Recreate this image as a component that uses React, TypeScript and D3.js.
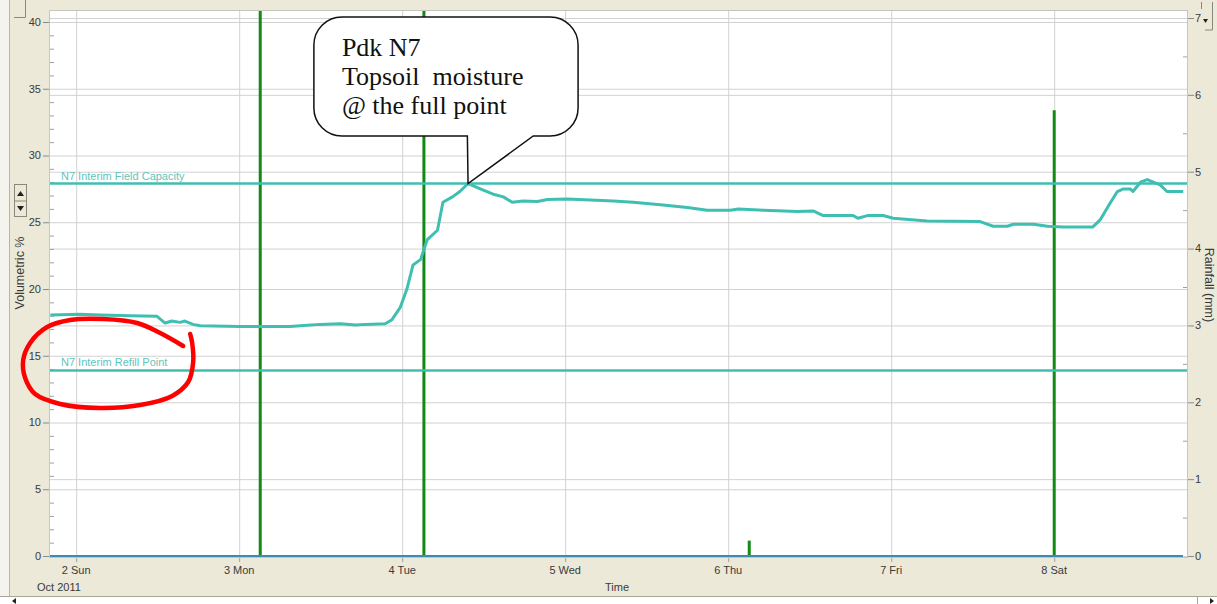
import React from 'react';
import * as d3 from 'd3';

const W = 1217;
const H = 604;

// ---- data ----
const startTime = new Date(2011, 9, 2, 0, 0); // 2 Oct 2011 00:00
const dayLabels = ['2 Sun', '3 Mon', '4 Tue', '5 Wed', '6 Thu', '7 Fri', '8 Sat'];
const monthLabel = 'Oct 2011';
const leftTicks = [0, 5, 10, 15, 20, 25, 30, 35, 40];
const rightTicks = [0, 1, 2, 3, 4, 5, 6, 7];

// soil moisture: hours since 2 Oct 00:00, volumetric %
const moistureHours = [
  -3.8, 0.6, 3.5, 8.0, 11.9, 13.1, 14.1, 15.3, 16.0, 17.2, 18.3, 24.1, 31.5, 33.0, 35.9, 38.9,
  41.1, 42.6, 45.5, 46.5, 47.7, 48.7, 49.6, 50.7, 51.7, 53.2, 54.0, 55.4, 56.5, 57.7, 59.5, 61.4,
  62.9, 64.2, 65.8, 67.9, 69.4, 72.3, 79.1, 82.0, 86.4, 90.0, 92.9, 96.3, 97.5, 101.2, 106.2,
  108.5, 110.0, 114.4, 115.1, 116.5, 118.8, 120.3, 125.3, 133.1, 135.0, 137.1, 138.0, 140.9,
  143.0, 145.3, 149.7, 150.8, 152.2, 153.3, 154.2, 155.2, 155.6, 156.7, 157.7, 158.6, 159.6,
  160.6, 163.0,
];
const moistureValues = [
  18.05, 18.1, 18.05, 18.0, 17.95, 17.45, 17.6, 17.5, 17.6, 17.35, 17.25, 17.2, 17.2, 17.25,
  17.35, 17.4, 17.3, 17.35, 17.4, 17.7, 18.6, 20.0, 21.8, 22.2, 23.7, 24.4, 26.5, 26.9, 27.3,
  27.9, 27.5, 27.1, 26.9, 26.5, 26.6, 26.55, 26.7, 26.75, 26.6, 26.5, 26.3, 26.1, 25.9, 25.9,
  26.0, 25.9, 25.8, 25.85, 25.5, 25.5, 25.3, 25.5, 25.5, 25.3, 25.1, 25.05, 24.7, 24.7, 24.85,
  24.85, 24.7, 24.65, 24.65, 25.2, 26.4, 27.3, 27.5, 27.5, 27.3, 28.0, 28.2, 28.0, 27.8, 27.3,
  27.3,
];

// rainfall: hours since 2 Oct 00:00, mm
const rainHours = [27.1, 51.2, 99.1, 144.0];
const rainValues = [10, 10, 0.2, 5.8];

const fieldCapacity = 27.9;
const refillPoint = 13.9;
const fieldCapacityLabel = 'N7 Interim Field Capacity';
const refillPointLabel = 'N7 Interim Refill Point';

// annotation (data units: hours, volumetric %)
const calloutLines = ['Pdk N7', 'Topsoil  moisture', '@ the full point'];
const calloutHours = [35.0, 73.9];
const calloutValues = [40.37, 31.46];
const calloutTailHours = [57.6, 57.7, 67.3];
const calloutTipValue = 27.9;

const circleHours = [
  15.75, 12.37, 8.98, 3.98, -0.88, -4.27, -6.77, -7.8, -7.51, -6.04, -2.36, 3.53, 9.42, 14.14,
  16.49, 17.23, 17.08, 16.79,
];
const circleValues = [
  15.73, 16.7, 17.45, 17.75, 17.68, 17.15, 15.96, 14.68, 13.33, 12.13, 11.39, 11.09, 11.31,
  11.99, 13.03, 14.53, 15.96, 16.63,
];

const hrs = (h: number) => new Date(startTime.getTime() + h * 3600e3);

const BEIGE = '#ece9d8';
const GRID = '#d2d2d2';
const TEAL = '#3fbfb2';
const GREEN = '#138a13';
const TXT = '#3a3a3a';
const FONT = 'Liberation Sans, Arial, sans-serif';

export default function App() {
  const plotL = 49;
  const plotR = 1188;
  const plotT = 10;
  const plotB = 558;

  const x = d3.scaleTime().domain([hrs(-4), hrs(163.7)]).range([plotL, plotR]);
  const yL = d3.scaleLinear().domain([0, 40]).range([556, 22]);
  const yR = d3.scaleLinear().domain([0, 7]).range([556, 18]);

  const days = d3.timeDay.range(hrs(0), hrs(150));

  const moisture: [number, number][] = moistureHours.map((h, i) => [h, moistureValues[i]]);
  const line = d3
    .line<[number, number]>()
    .x((d) => x(hrs(d[0])))
    .y((d) => yL(d[1]));

  const circlePts: [number, number][] = circleHours.map((h, i) => [h, circleValues[i]]);
  const circleLine = d3
    .line<[number, number]>()
    .x((d) => x(hrs(d[0])))
    .y((d) => yL(d[1]))
    .curve(d3.curveCatmullRom.alpha(0.5));

  // callout path
  const bx0 = x(hrs(calloutHours[0]));
  const bx1 = x(hrs(calloutHours[1]));
  const by0 = yL(calloutValues[0]);
  const by1 = yL(calloutValues[1]);
  const r = 28;
  const t1 = x(hrs(calloutTailHours[0]));
  const tip = x(hrs(calloutTailHours[1]));
  const t2 = x(hrs(calloutTailHours[2]));
  const tipY = yL(calloutTipValue);
  const callout = [
    `M${bx0 + r},${by0}`,
    `L${bx1 - r},${by0}`,
    `A${r},${r} 0 0 1 ${bx1},${by0 + r}`,
    `L${bx1},${by1 - r}`,
    `A${r},${r} 0 0 1 ${bx1 - r},${by1}`,
    `L${t2},${by1}`,
    `L${tip},${tipY}`,
    `L${t1},${by1}`,
    `L${bx0 + r},${by1}`,
    `A${r},${r} 0 0 1 ${bx0},${by1 - r}`,
    `L${bx0},${by0 + r}`,
    `A${r},${r} 0 0 1 ${bx0 + r},${by0}`,
    'Z',
  ].join(' ');

  const leftMinor = d3.range(0, 41, 1).filter((v) => v % 5 !== 0);
  const rightMinor = d3.range(0.5, 7, 1);

  return (
    <svg
      width={W}
      height={H}
      style={{ position: 'absolute', left: 0, top: 0, display: 'block' }}
      fontFamily={FONT}
    >
      <defs>
        <clipPath id="plotClip">
          <rect x={plotL} y={plotT} width={plotR - plotL} height={plotB - plotT} />
        </clipPath>
      </defs>
      {/* frame */}
      <rect x={0} y={0} width={W} height={H} fill={BEIGE} />
      <rect x={0} y={0} width={9} height={596} fill="#f4f3ee" />
      <line x1={9.5} y1={0} x2={9.5} y2={596} stroke="#b8b5a6" />
      <path d="M25.5,0 V17.5 H14" fill="none" stroke="#8a887c" />
      {/* spinner */}
      <rect x={14.5} y={184.5} width={12} height={32} fill={BEIGE} stroke="#8a887c" />
      <path d="M17,196 L20.5,191 L24,196 Z" fill="#222" />
      <path d="M17,206 L20.5,211 L24,206 Z" fill="#222" />
      <line x1={14.5} y1={201} x2={26.5} y2={201} stroke="#8a887c" />
      {/* right top control */}
      <path d="M1203,19 L1208,19 L1205.5,23 Z" fill="#222" />
      <path d="M1201.5,9 V2 M1212.5,2 V30 H1205" fill="none" stroke="#8a887c" />
      {/* bottom scrollbar */}
      <rect x={0} y={596} width={W} height={8} fill="#ffffff" />
      <line x1={0} y1={596.5} x2={W} y2={596.5} stroke="#a8a698" />
      <path d="M12,601 L16,598 L16,604 Z" fill="#222" />
      <line x1={1197.5} y1={597} x2={1197.5} y2={604} stroke="#a8a698" />
      <path d="M1214,601 L1210,598 L1210,604 Z" fill="#222" />

      {/* plot background */}
      <rect x={plotL} y={plotT} width={plotR - plotL} height={plotB - plotT} fill="#ffffff" />

      <g clipPath="url(#plotClip)">
        {/* grid */}
        {leftTicks.map((v) => (
          <line key={'gl' + v} x1={plotL} x2={plotR} y1={yL(v) + 0.5} y2={yL(v) + 0.5} stroke={GRID} />
        ))}
        {rightTicks.map((v) => (
          <line key={'gr' + v} x1={plotL} x2={plotR} y1={yR(v) + 0.5} y2={yR(v) + 0.5} stroke={GRID} />
        ))}
        {days.map((d) => (
          <line key={'gd' + d.getTime()} x1={x(d) + 0.5} x2={x(d) + 0.5} y1={plotT} y2={plotB} stroke={GRID} />
        ))}
        {/* minor ticks */}
        {leftMinor.map((v) => (
          <line key={'lm' + v} x1={plotL} x2={plotL + 5} y1={yL(v) + 0.5} y2={yL(v) + 0.5} stroke="#a0a0a0" />
        ))}
        {rightMinor.map((v) => (
          <line key={'rm' + v} x1={plotR - 5} x2={plotR} y1={yR(v) + 0.5} y2={yR(v) + 0.5} stroke="#a0a0a0" />
        ))}

        {/* rainfall bars */}
        {rainHours.map((h, i) => (
          <rect
            key={'rain' + i}
            x={x(hrs(h)) - 1.5}
            width={3}
            y={yR(rainValues[i])}
            height={yR(0) - yR(rainValues[i])}
            fill={GREEN}
          />
        ))}

        {/* thresholds */}
        <line x1={plotL} x2={plotR} y1={yL(fieldCapacity)} y2={yL(fieldCapacity)} stroke={TEAL} strokeWidth={2.5} />
        <line x1={plotL} x2={plotR} y1={yL(refillPoint)} y2={yL(refillPoint)} stroke={TEAL} strokeWidth={2.5} />
        <text x={61} y={yL(fieldCapacity) - 4} fontSize={11} fill="#5ec5bd">
          {fieldCapacityLabel}
        </text>
        <text x={61} y={yL(refillPoint) - 4} fontSize={11} fill="#5ec5bd">
          {refillPointLabel}
        </text>

        {/* zero line */}
        <line x1={plotL} x2={plotR - 5} y1={yL(0)} y2={yL(0)} stroke="#3a8cb4" strokeWidth={2} />

        {/* moisture line */}
        <path d={line(moisture) || ''} fill="none" stroke={TEAL} strokeWidth={3} strokeLinejoin="round" />
      </g>
      <rect x={plotL + 0.5} y={plotT + 0.5} width={plotR - plotL - 1} height={plotB - plotT - 1} fill="none" stroke="#c8c6bc" />

      {/* left axis */}
      {leftTicks.map((v) => (
        <g key={'lt' + v}>
          <line x1={43} x2={plotL} y1={yL(v) + 0.5} y2={yL(v) + 0.5} stroke="#8a8a8a" />
          <text x={41} y={yL(v)} dy="0.35em" textAnchor="end" fontSize={11} fill={TXT}>
            {v}
          </text>
        </g>
      ))}
      <text transform="translate(24,273) rotate(-90)" textAnchor="middle" fontSize={12.5} fill={TXT}>
        Volumetric %
      </text>

      {/* right axis */}
      {rightTicks.map((v) => (
        <g key={'rt' + v}>
          <line x1={plotR} x2={plotR + 6} y1={yR(v) + 0.5} y2={yR(v) + 0.5} stroke="#8a8a8a" />
          <text x={1195} y={yR(v)} dy="0.35em" textAnchor="start" fontSize={11} fill={TXT}>
            {v}
          </text>
        </g>
      ))}
      <text transform="translate(1205,285) rotate(90)" textAnchor="middle" fontSize={12.5} fill={TXT}>
        Rainfall (mm)
      </text>

      {/* x axis */}
      {days.map((d, i) => (
        <g key={'xt' + i}>
          <line x1={x(d) + 0.5} x2={x(d) + 0.5} y1={plotB} y2={plotB + 4} stroke="#a0a0a0" />
          <text x={x(d)} y={574} textAnchor="middle" fontSize={11} fill={TXT}>
            {dayLabels[i]}
          </text>
        </g>
      ))}
      <text x={37} y={591} fontSize={11} fill={TXT}>
        {monthLabel}
      </text>
      <text x={617} y={591} textAnchor="middle" fontSize={11} fill={TXT}>
        Time
      </text>

      {/* callout */}
      <path d={callout} fill="#ffffff" stroke="#111" strokeWidth={1.5} strokeLinejoin="miter" />
      {calloutLines.map((s, i) => (
        <text
          key={'cl' + i}
          x={bx0 + 28}
          y={by0 + 39 + i * 29}
          fontFamily="Liberation Serif, Times New Roman, serif"
          fontSize={26}
          fill="#111"
          style={{ whiteSpace: 'pre' }}
        >
          {s}
        </text>
      ))}

      {/* red hand-drawn circle */}
      <path
        d={circleLine(circlePts) || ''}
        fill="none"
        stroke="#ff0000"
        strokeWidth={4.5}
        strokeLinecap="round"
        strokeLinejoin="round"
      />
    </svg>
  );
}
